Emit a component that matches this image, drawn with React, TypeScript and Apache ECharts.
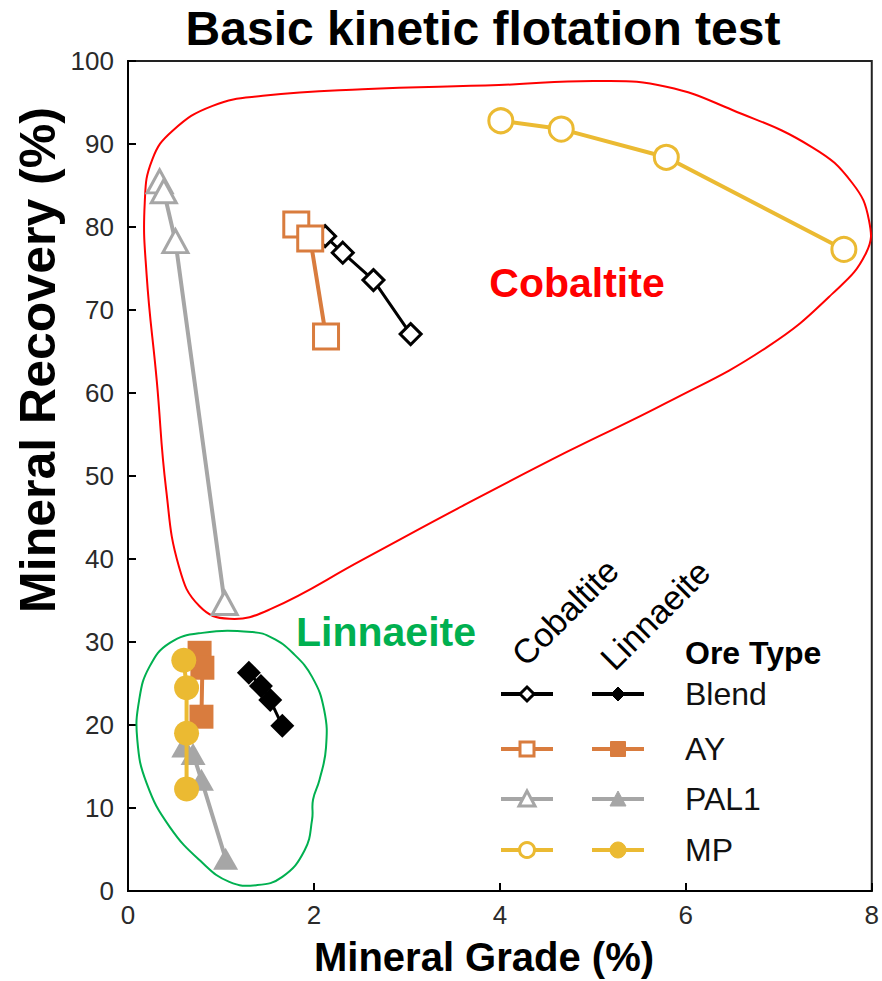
import React, { useEffect, useRef } from 'react';
import * as echarts from 'echarts';

const FONT = '"Liberation Sans", Arial, Helvetica, sans-serif';

const chartTitle = 'Basic kinetic flotation test';
const xAxisTitle = 'Mineral Grade (%)';
const yAxisTitle = 'Mineral Recovery (%)';

const oreTypes = ['Blend', 'AY', 'PAL1', 'MP'];
const oreColors = ['#000000', '#D97C3E', '#A6A6A6', '#EBBA32'];
const oreSymbols = ['diamond', 'rect', 'triangle', 'circle'];
const mineralHeaders = ['Cobaltite', 'Linnaeite'];

// Cobaltite (open markers)
const cobBlendGrade = [2.12, 2.31, 2.64, 3.04];
const cobBlendRecovery = [78.9, 76.9, 73.6, 67.1];
const cobAYGrade = [1.81, 1.96, 2.13];
const cobAYRecovery = [80.3, 78.6, 66.8];
const cobPAL1Grade = [0.34, 0.385, 0.51, 1.04];
const cobPAL1Recovery = [85.5, 84.3, 78.3, 34.7];
const cobMPGrade = [4.01, 4.66, 5.79, 7.7];
const cobMPRecovery = [92.8, 91.8, 88.4, 77.3];

// Linnaeite (filled markers)
const linBlendGrade = [1.3, 1.43, 1.53, 1.66];
const linBlendRecovery = [26.3, 24.7, 23.0, 19.9];
const linAYGrade = [0.77, 0.8, 0.79];
const linAYRecovery = [28.7, 26.9, 21.0];
const linPAL1Grade = [0.6, 0.7, 0.79, 1.05];
const linPAL1Recovery = [17.4, 16.5, 13.4, 3.9];
const linMPGrade = [0.6, 0.63, 0.63, 0.63];
const linMPRecovery = [27.8, 24.5, 19.0, 12.3];

// Enclosure outlines (grade, recovery)
const cobaltiteLoopGrade = [0.48, 0.91, 1.45, 2.52, 3.99, 5.07, 5.79, 6.5, 7.36, 7.79, 7.97, 7.94, 7.58, 6.87, 5.79, 4.72, 3.6, 2.52, 1.52, 1.09, 0.77, 0.55, 0.41, 0.31, 0.2, 0.18, 0.26];
const cobaltiteLoopRecovery = [91.6, 94.6, 95.8, 96.6, 97.1, 97.6, 96.9, 94.1, 89.6, 85.3, 80.8, 76.9, 72.0, 65.5, 58.8, 52.9, 46.4, 39.9, 33.9, 32.8, 34.3, 39.0, 48.4, 61.4, 74.3, 82.9, 88.1];
const linnaeiteLoopGrade = [1.34, 0.8, 0.45, 0.23, 0.12, 0.1, 0.2, 0.45, 0.8, 1.09, 1.38, 1.66, 1.9, 1.98, 1.99, 2.06, 2.13, 2.11, 1.98, 1.77, 1.55];
const linnaeiteLoopRecovery = [31.2, 31.1, 29.9, 27.0, 23.0, 18.2, 13.0, 7.7, 3.4, 1.1, 0.7, 1.7, 4.9, 8.6, 11.0, 13.4, 17.3, 21.8, 25.8, 28.7, 30.5];

const pairs = (xs: number[], ys: number[]) => xs.map((x, i) => [x, ys[i]]);

function loopSeries(name: string, xs: number[], ys: number[], color: string) {
  return {
    name,
    type: 'custom',
    coordinateSystem: 'cartesian2d',
    silent: true,
    clip: false,
    z: 1,
    data: [[xs[0], ys[0]]],
    renderItem: (_params: any, api: any) => ({
      type: 'polygon',
      shape: { points: xs.map((x, i) => api.coord([x, ys[i]])), smooth: 0.45 },
      style: { fill: 'none', stroke: color, lineWidth: 2 },
    }),
  };
}

function oreSeries(name: string, xs: number[], ys: number[], idx: number, open: boolean, size: any, lineWidth: number, z: number) {
  const color = oreColors[idx];
  return {
    name,
    type: 'line',
    z,
    data: pairs(xs, ys),
    symbol: oreSymbols[idx],
    symbolSize: size,
    showAllSymbol: true,
    lineStyle: { color, width: lineWidth },
    itemStyle: open
      ? { color: '#ffffff', borderColor: color, borderWidth: 3 }
      : { color, borderColor: color, borderWidth: 0 },
    emphasis: { disabled: true },
  };
}

function legendMarker(kind: string, cx: number, cy: number, color: string, open: boolean) {
  const style = open
    ? { fill: '#ffffff', stroke: color, lineWidth: 3 }
    : { fill: color, stroke: color, lineWidth: 1 };
  if (kind === 'rect') {
    const s = open ? 14 : 15;
    return { type: 'rect', shape: { x: cx - s / 2, y: cy - s / 2, width: s, height: s }, style };
  }
  if (kind === 'circle') {
    return { type: 'circle', shape: { cx, cy, r: open ? 7.5 : 8 }, style };
  }
  if (kind === 'triangle') {
    return { type: 'polygon', shape: { points: [[cx, cy - 8], [cx + 8, cy + 7], [cx - 8, cy + 7]] }, style };
  }
  return { type: 'polygon', shape: { points: [[cx, cy - 7], [cx + 7, cy], [cx, cy + 7], [cx - 7, cy]] }, style };
}

const centered = { align: 'center', verticalAlign: 'middle', textAlign: 'center', textVerticalAlign: 'middle' };

function buildLegend() {
  const els: any[] = [];
  const rowsY = [694, 749, 799, 850];
  const colX = [527, 618];
  oreTypes.forEach((t, i) => {
    colX.forEach((cx, c) => {
      els.push({ type: 'line', shape: { x1: cx - 26, y1: rowsY[i], x2: cx + 26, y2: rowsY[i] }, style: { stroke: oreColors[i], lineWidth: 4 } });
      els.push(legendMarker(oreSymbols[i], cx, rowsY[i], oreColors[i], c === 0));
    });
    els.push({ type: 'text', x: 685, y: rowsY[i], style: { text: t, fontSize: 32, fontFamily: FONT, fill: '#111', align: 'left', verticalAlign: 'middle', textAlign: 'left', textVerticalAlign: 'middle' } });
  });
  els.push({ type: 'text', x: 685, y: 653, style: { text: 'Ore Type', fontSize: 32, fontWeight: 'bold', fontFamily: FONT, fill: '#000', align: 'left', verticalAlign: 'middle', textAlign: 'left', textVerticalAlign: 'middle' } });
  const hdrPos = [[565, 612], [655, 615]];
  mineralHeaders.forEach((h, i) => {
    els.push({ type: 'text', x: hdrPos[i][0], y: hdrPos[i][1], rotation: Math.PI / 4, style: { text: h, fontSize: 34, fontFamily: FONT, fill: '#000', ...centered } });
  });
  return els;
}

export default function App() {
  const ref = useRef<HTMLDivElement>(null);
  useEffect(() => {
    if (!ref.current) return;
    const chart = echarts.init(ref.current, undefined, { renderer: 'svg' });
    const axisLabel = { fontSize: 26, color: '#2a2a2a', fontFamily: FONT };
    chart.setOption({
      animation: false,
      backgroundColor: '#ffffff',
      grid: { left: 128, top: 61, right: 10, bottom: 90, show: true, borderColor: '#222', borderWidth: 2 },
      xAxis: {
        type: 'value', min: 0, max: 8, interval: 2,
        axisLine: { show: true, lineStyle: { color: '#000', width: 2 } },
        axisTick: { show: true, inside: true, length: 8, lineStyle: { color: '#000', width: 2 } },
        axisLabel: { ...axisLabel, margin: 11 },
        splitLine: { show: false },
      },
      yAxis: {
        type: 'value', min: 0, max: 100, interval: 10,
        axisLine: { show: true, lineStyle: { color: '#000', width: 2 } },
        axisTick: { show: true, inside: true, length: 8, lineStyle: { color: '#000', width: 2 } },
        axisLabel: { ...axisLabel, margin: 14 },
        splitLine: { show: false },
      },
      graphic: [
        { type: 'text', x: 483, y: 28, style: { text: chartTitle, fontSize: 48, fontWeight: 'bold', fontFamily: FONT, fill: '#000', ...centered } },
        { type: 'text', x: 484, y: 957, style: { text: xAxisTitle, fontSize: 40, fontWeight: 'bold', fontFamily: FONT, fill: '#000', ...centered } },
        { type: 'text', x: 38, y: 360, rotation: Math.PI / 2, style: { text: yAxisTitle, fontSize: 50, fontWeight: 'bold', fontFamily: FONT, fill: '#000', ...centered } },
        { type: 'text', x: 577, y: 283, z: 50, style: { text: 'Cobaltite', fontSize: 41, fontWeight: 'bold', fontFamily: FONT, fill: '#FF0000', ...centered } },
        { type: 'text', x: 386, y: 632, z: 50, style: { text: 'Linnaeite', fontSize: 41, fontWeight: 'bold', fontFamily: FONT, fill: '#00B050', ...centered } },
        ...buildLegend(),
      ],
      series: [
        loopSeries('Cobaltite region', cobaltiteLoopGrade, cobaltiteLoopRecovery, '#FF0000'),
        loopSeries('Linnaeite region', linnaeiteLoopGrade, linnaeiteLoopRecovery, '#00B050'),
        oreSeries('Cobaltite Blend', cobBlendGrade, cobBlendRecovery, 0, true, 21, 3, 2),
        oreSeries('Cobaltite PAL1', cobPAL1Grade, cobPAL1Recovery, 2, true, [25, 23], 4, 3),
        oreSeries('Cobaltite AY', cobAYGrade, cobAYRecovery, 1, true, 25, 4, 4),
        oreSeries('Cobaltite MP', cobMPGrade, cobMPRecovery, 3, true, 24, 4, 5),
        oreSeries('Linnaeite Blend', linBlendGrade, linBlendRecovery, 0, false, 24, 3, 6),
        oreSeries('Linnaeite PAL1', linPAL1Grade, linPAL1Recovery, 2, false, [25, 22], 4, 7),
        oreSeries('Linnaeite AY', linAYGrade, linAYRecovery, 1, false, 24, 4, 8),
        oreSeries('Linnaeite MP', linMPGrade, linMPRecovery, 3, false, 25, 4, 9),
      ],
    });
    return () => chart.dispose();
  }, []);
  return <div ref={ref} style={{ position: 'fixed', left: 0, top: 0, width: 882, height: 981 }} />;
}
